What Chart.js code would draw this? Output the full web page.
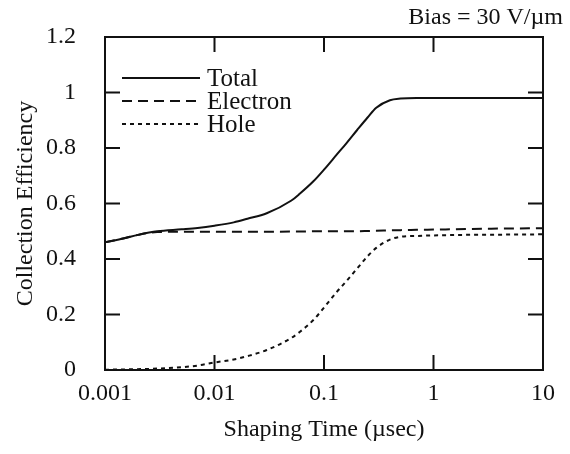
<!DOCTYPE html>
<html lang="en">

<head>
  <meta charset="UTF-8">
  <title>Collection Efficiency vs Shaping Time</title>
  <script src="https://cdn.jsdelivr.net/npm/chart.js@4.4.0/dist/chart.umd.min.js"></script>
  <style>
    body {
      margin: 0;
      background: #fff;
    }
    .plot-container {
      width: 570px;
      height: 454px;
      position: relative;
    }
  </style>
</head>

<body>
  <div class="plot-container">
    <canvas id="plot"></canvas>
  </div>

  <script>
    // values
    const shapingTime = [0.001, 0.0015, 0.002, 0.003, 0.005, 0.007, 0.01, 0.015, 0.02, 0.03, 0.05, 0.06, 0.08,
      0.1, 0.13, 0.16, 0.2, 0.25, 0.3, 0.4, 0.5, 0.7, 1, 2, 5, 10];
    const total = [0.46, 0.475, 0.487, 0.5, 0.507, 0.512, 0.52, 0.532, 0.545, 0.565, 0.61, 0.635, 0.68,
      0.722, 0.775, 0.817, 0.864, 0.91, 0.945, 0.972, 0.978, 0.98, 0.98, 0.98, 0.98, 0.98];
    const electron = [0.46, 0.475, 0.487, 0.497, 0.498, 0.498, 0.498, 0.498, 0.498, 0.498, 0.499, 0.499, 0.5,
      0.5, 0.5, 0.5, 0.5, 0.501, 0.502, 0.503, 0.504, 0.505, 0.506, 0.508, 0.51, 0.511];
    const hole = [0.001, 0.002, 0.003, 0.005, 0.01, 0.016, 0.027, 0.038, 0.05, 0.072, 0.115, 0.137, 0.18,
      0.225, 0.28, 0.32, 0.365, 0.41, 0.44, 0.47, 0.48, 0.483, 0.485, 0.487, 0.488, 0.489];

    const xTicks = [0.001, 0.01, 0.1, 1, 10];
    const xTickLabels = ['0.001', '0.01', '0.1', '1', '10'];
    const yTicks = [0, 0.2, 0.4, 0.6, 0.8, 1, 1.2];
    const yTickLabels = ['0', '0.2', '0.4', '0.6', '0.8', '1', '1.2'];

    const ink = '#111';
    const serif = '"Liberation Serif", "DejaVu Serif", serif';

    function points(ys) {
      return shapingTime.map((t, i) => ({ x: t, y: ys[i] }));
    }

    function series(label, ys, dash) {
      return {
        label,
        data: points(ys),
        borderColor: ink,
        borderWidth: 2,
        borderDash: dash,
        pointRadius: 0,
        cubicInterpolationMode: 'monotone',
        fill: false,
      };
    }

    // frame, inward ticks, legend and the bias note
    const decorations = {
      id: 'decorations',
      afterDatasetsDraw(chart) {
        const { ctx, chartArea: a, scales } = chart;
        const len = 15;
        ctx.save();
        ctx.strokeStyle = ink;
        ctx.lineWidth = 2;
        ctx.setLineDash([]);
        ctx.strokeRect(a.left, a.top, a.right - a.left, a.bottom - a.top);

        ctx.beginPath();
        xTicks.slice(1, -1).forEach(v => {
          const px = scales.x.getPixelForValue(v);
          ctx.moveTo(px, a.bottom); ctx.lineTo(px, a.bottom - len);
          ctx.moveTo(px, a.top); ctx.lineTo(px, a.top + len);
        });
        yTicks.slice(1, -1).forEach(v => {
          const py = scales.y.getPixelForValue(v);
          ctx.moveTo(a.left, py); ctx.lineTo(a.left + len, py);
          ctx.moveTo(a.right, py); ctx.lineTo(a.right - len, py);
        });
        ctx.stroke();

        // legend
        ctx.font = '25px ' + serif;
        ctx.fillStyle = ink;
        ctx.textBaseline = 'middle';
        chart.data.datasets.forEach((ds, i) => {
          const y = 78 + i * 23;
          ctx.beginPath();
          ctx.setLineDash(ds.borderDash || []);
          ctx.moveTo(122, y);
          ctx.lineTo(200, y);
          ctx.stroke();
          ctx.fillText(ds.label, 207, y + 1);
        });

        ctx.setLineDash([]);
        ctx.font = '24px ' + serif;
        ctx.textAlign = 'right';
        ctx.fillText('Bias = 30 V/\u00b5m', 563, 18);
        ctx.restore();
      }
    };

    const config = {
      type: 'line',
      data: {
        datasets: [
          series('Total', total, []),
          series('Electron', electron, [10, 6]),
          series('Hole', hole, [4, 4]),
        ]
      },
      options: {
        responsive: true,
        maintainAspectRatio: false,
        animation: false,
        layout: { padding: { top: 37, right: 27, left: 0, bottom: 0 } },
        plugins: {
          legend: { display: false },
          tooltip: { enabled: false },
        },
        scales: {
          x: {
            type: 'logarithmic',
            min: 0.001,
            max: 10,
            grid: { display: false },
            border: { display: false },
            afterBuildTicks: s => { s.ticks = xTicks.map(v => ({ value: v })); },
            afterFit: s => { s.height = 84; },
            ticks: {
              color: ink,
              padding: 1,
              maxRotation: 0,
              font: { family: serif, size: 24 },
              callback: (v) => xTickLabels[xTicks.indexOf(v)],
            },
            title: {
              display: true,
              text: 'Shaping Time (\u00b5sec)',
              color: ink,
              font: { family: serif, size: 24 },
              padding: { top: 0, bottom: 10 },
            },
          },
          y: {
            min: 0,
            max: 1.2,
            grid: { display: false },
            border: { display: false },
            afterBuildTicks: s => { s.ticks = yTicks.map(v => ({ value: v })); },
            afterFit: s => { s.width = 105; },
            ticks: {
              color: ink,
              padding: 21,
              font: { family: serif, size: 24 },
              callback: (v) => yTickLabels[yTicks.indexOf(v)],
            },
            title: {
              display: true,
              text: 'Collection Efficiency',
              color: ink,
              font: { family: serif, size: 24 },
              padding: { top: 11, bottom: 0 },
            },
          }
        }
      },
      plugins: [decorations]
    };

    const plot = new Chart(document.getElementById('plot'), config);
  </script>
</body>

</html>
